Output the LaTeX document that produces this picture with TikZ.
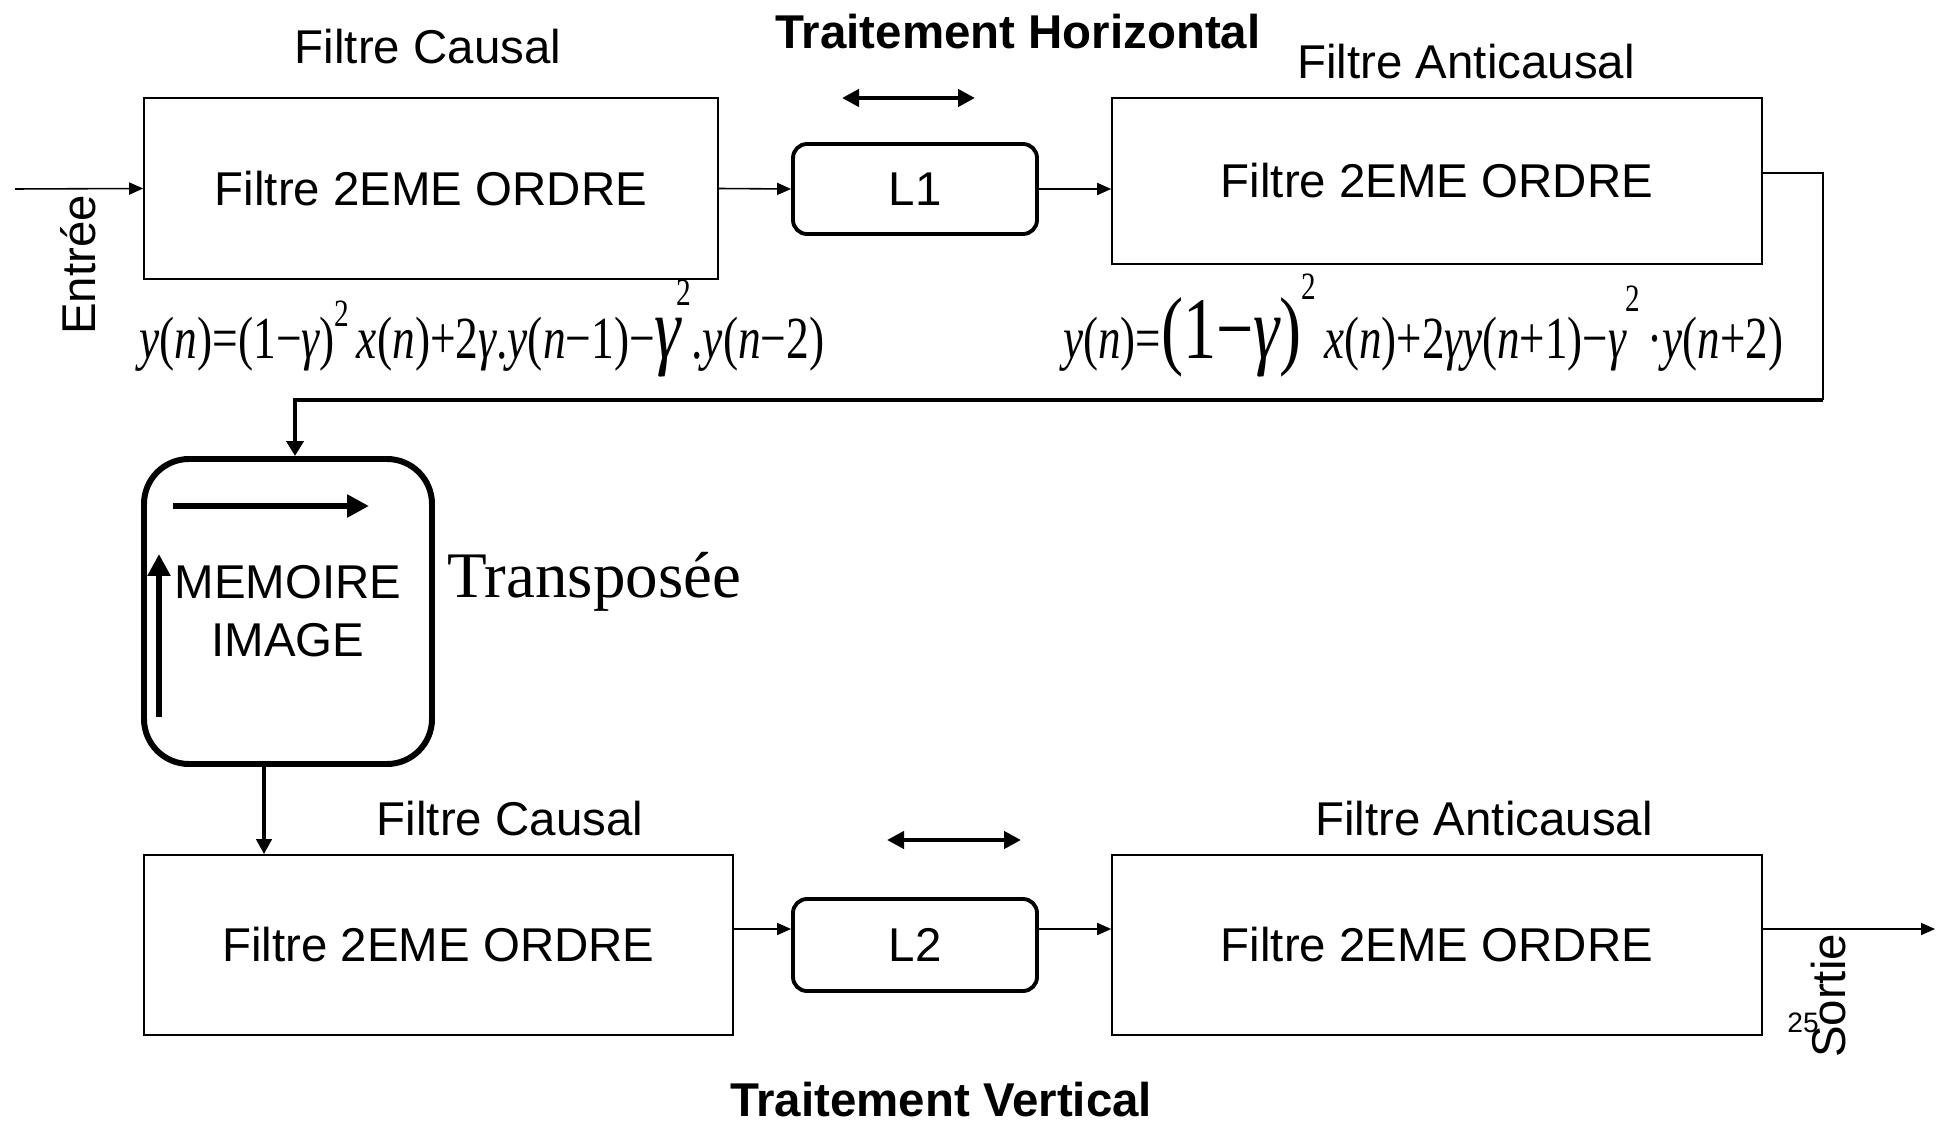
\documentclass[tikz,border=0pt]{standalone}
\usepackage{fontspec}
\setmainfont{Liberation Sans}
\newfontfamily\tms{Liberation Serif}
\usetikzlibrary{arrows.meta}
\newlength\upx
\setlength\upx{0.02cm}
\newcommand{\vi}[1]{{\itshape #1}}
\newcommand{\expo}[2][0.55em]{\raisebox{#1}{\fontsize{22}{22}\selectfont #2}}

\begin{document}
\begin{tikzpicture}[x=0.02cm,y=-0.02cm,
  fb/.style={draw,line width=0.9pt,inner sep=0pt,font=\fontsize{27}{33}\selectfont},
  lb/.style={draw,line width=2.2pt,rounded corners=14\upx,inner sep=0pt,font=\fontsize{27}{33}\selectfont},
  tx/.style={inner sep=0pt,font=\fontsize{27}{33}\selectfont},
  tb/.style={inner sep=0pt,font=\fontsize{27}{33}\selectfont\bfseries},
  eq/.style={anchor=base west,inner sep=0pt,font=\tms\fontsize{34}{40}\selectfont},
  fl/.style={line width=0.9pt,-{Triangle[length=0.28cm,width=0.24cm]}},
  da/.style={line width=2.8pt,{Triangle[length=0.34cm,width=0.34cm]}-{Triangle[length=0.34cm,width=0.34cm]}},
  ia/.style={line width=3.4pt,-{Triangle[length=0.44cm,width=0.44cm]}}]
\useasboundingbox (0,0) rectangle (1942,1124);
% Traitement horizontal
\node[fb,minimum width=574\upx,minimum height=181\upx] (fC1) at (431,188.5) {Filtre 2EME ORDRE};
\node[lb,minimum width=244\upx,minimum height=90\upx] (L1) at (915,189) {L1};
\node[fb,minimum width=650\upx,minimum height=166\upx] (fA1) at (1437,181) {Filtre 2EME ORDRE};
\node[tx] (tC1) at (428,47) {Filtre Causal};
\node[tb] (tH) at (1018,32) {Traitement Horizontal};
\node[tx] (tA1) at (1466,62) {Filtre Anticausal};
\node[tx,rotate=90] (tIn) at (78,265) {Entrée};
\draw[da] (842,98) -- (975,98);
\node[eq] (eq1) at (139,359) {\resizebox{685\upx}{\height}{%
  \vi{y}(\vi{n})=(1−\vi{γ})\expo{2}\,\vi{x}(\vi{n})+2\vi{γ}.\vi{y}(\vi{n}−1)−{\fontsize{50}{50}\selectfont\vi{γ}}\kern-0.1em\expo[0.9em]{2}.\vi{y}(\vi{n}−2)}};
\node[eq] (eq2) at (1063,359) {\resizebox{720\upx}{\height}{%
  \vi{y}(\vi{n})={\fontsize{50}{50}\selectfont(1−\vi{γ})}\expo[1.0em]{2}\,\vi{x}(\vi{n})+2\vi{γ}\vi{y}(\vi{n}+1)−\vi{γ}\expo[0.8em]{2}\,·\vi{y}(\vi{n}+2)}};
\coordinate (in) at (15,189);
\draw[fl] (in) -- (fC1.west);
\draw[fl] (fC1.east) -- (L1.west);
\draw[fl] (L1.east) -- (L1.east -| fA1.west);
% Memoire image
\node[draw,line width=3.4pt,rounded corners=45\upx,minimum width=288\upx,minimum height=305\upx,
  align=center,font=\fontsize{27}{33}\selectfont,inner sep=0pt] (mem) at (288,611.5) {MEMOIRE\\IMAGE};
\node[anchor=base west,inner sep=0pt,font=\tms\fontsize{37}{40}\selectfont] (tT) at (447,597) {Transposée};
\draw[ia] (173,506) -- (369,506);
\draw[ia] (159,717) -- (159,554);
\coordinate (r1) at (1823,173);
\coordinate (r2) at (1823,400);
\coordinate (min) at ([xshift=7\upx]mem.north);
\coordinate (mout) at ([xshift=-24\upx]mem.south);
\draw[line width=0.9pt] (fA1.east |- r1) -- (r1) -- (r2);
\draw[line width=2.2pt,-{Triangle[length=0.3cm,width=0.34cm]}] (r2) -| (min);
% Traitement vertical
\node[fb,minimum width=589\upx,minimum height=180\upx] (fC2) at (438.5,945) {Filtre 2EME ORDRE};
\node[lb,minimum width=244\upx,minimum height=92\upx] (L2) at (915,945) {L2};
\node[fb,minimum width=650\upx,minimum height=180\upx] (fA2) at (1437,945) {Filtre 2EME ORDRE};
\node[tx] (tC2) at (510,819) {Filtre Causal};
\node[tx] (tA2) at (1484,819) {Filtre Anticausal};
\node[tb,anchor=base] (tV) at (941,1116) {Traitement Vertical};
\draw[da] (887,840) -- (1021,840);
\draw[line width=2.2pt,-{Triangle[length=0.3cm,width=0.3cm]}] (mout) -- (mout |- fC2.north);
\coordinate (lv) at (0,929);
\coordinate (out) at (1935,929);
\draw[fl] (fC2.east |- lv) -- (L2.west |- lv);
\draw[fl] (L2.east |- lv) -- (fA2.west |- lv);
\draw[fl] (fA2.east |- lv) -- (out);
\node[tx,rotate=90] (tOut) at (1829,996) {Sortie};
\node[inner sep=0pt,font=\fontsize{16}{16}\selectfont] (pg) at (1803,1023) {25};
\end{tikzpicture}
\end{document}
